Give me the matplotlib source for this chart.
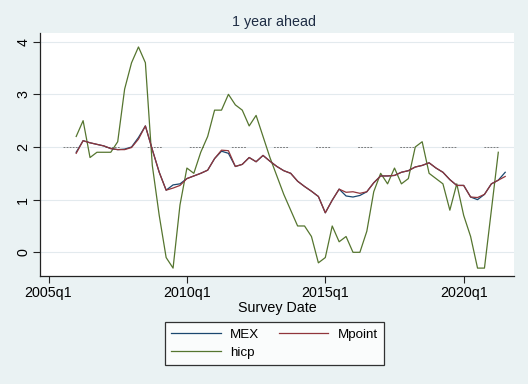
import numpy as np
import matplotlib
matplotlib.use("Agg")
import matplotlib.pyplot as plt
from matplotlib.ticker import FixedLocator, FuncFormatter

plt.rcParams["font.family"] = ["Liberation Sans", "DejaVu Sans"]
plt.rcParams["lines.scale_dashes"] = False

# ---- Data (quarterly, Stata %tq index: 2006q1 = 184) ----
START_Q = 184

mex = [1.90, 2.12, 2.08, 2.05, 2.02, 1.97, 1.95, 1.96, 2.00, 2.18,
       2.40, 1.95, 1.52, 1.18, 1.28, 1.30, 1.40, 1.45, 1.50, 1.56,
       1.78, 1.92, 1.88, 1.63, 1.67, 1.80, 1.72, 1.84, 1.73, 1.63,
       1.55, 1.50, 1.35, 1.25, 1.16, 1.06, 0.75, 0.99, 1.20, 1.07,
       1.05, 1.08, 1.15, 1.32, 1.45, 1.45, 1.46, 1.52, 1.55, 1.62,
       1.65, 1.70, 1.60, 1.52, 1.38, 1.27, 1.27, 1.05, 1.00, 1.10,
       1.30, 1.37, 1.52]

mpoint = [1.88, 2.12, 2.08, 2.05, 2.02, 1.97, 1.95, 1.95, 1.99, 2.15,
          2.40, 1.95, 1.52, 1.18, 1.22, 1.27, 1.40, 1.45, 1.50, 1.56,
          1.78, 1.94, 1.93, 1.63, 1.67, 1.80, 1.72, 1.84, 1.73, 1.63,
          1.55, 1.50, 1.35, 1.25, 1.16, 1.06, 0.75, 0.99, 1.20, 1.14,
          1.15, 1.12, 1.15, 1.32, 1.45, 1.45, 1.46, 1.52, 1.55, 1.62,
          1.65, 1.70, 1.60, 1.52, 1.38, 1.27, 1.27, 1.05, 1.04, 1.10,
          1.30, 1.37, 1.44]

hicp = [2.2, 2.5, 1.8, 1.9, 1.9, 1.9, 2.1, 3.1, 3.6, 3.9,
        3.6, 1.65, 0.7, -0.1, -0.3, 0.9, 1.6, 1.5, 1.9, 2.2,
        2.7, 2.7, 3.0, 2.8, 2.7, 2.4, 2.6, 2.2, 1.8, 1.45,
        1.1, 0.8, 0.5, 0.5, 0.3, -0.2, -0.1, 0.5, 0.2, 0.3,
        0.0, 0.0, 0.4, 1.15, 1.5, 1.3, 1.6, 1.3, 1.4, 2.0,
        2.1, 1.5, 1.4, 1.3, 0.8, 1.3, 0.7, 0.3, -0.3, -0.3,
        0.8, 1.9]

target = 2.0
x_ticks = [180, 200, 220, 240]   # 2005q1, 2010q1, 2015q1, 2020q1
y_ticks = [0, 1, 2, 3, 4]

BG = "#eaf2f3"
C_MEX, C_MP, C_HICP = "#1a476f", "#90353b", "#55752f"


def tq_label(v, pos=None):
    v = int(round(v))
    return f"{1960 + v // 4}q{v % 4 + 1}"


def main():
    q = START_Q + np.arange(len(mex))
    hicp_full = np.full(len(mex), np.nan)
    hicp_full[:len(hicp)] = hicp

    fig = plt.figure(figsize=(5.28, 3.84), dpi=100, facecolor=BG)
    ax = fig.add_axes([40 / 528, 1 - 276 / 384, 474 / 528, 243 / 384])
    ax.set_facecolor("white")

    for y in y_ticks:
        ax.axhline(y, color="#e3eaee", lw=0.8, zorder=0)

    # target line (fine dashes grouped in blocks)
    dash = [1.3, 0.9] * 5
    dash[-1] = 20.2
    ax.axhline(target, color="#6b6b6b", lw=0.6, zorder=1,
               linestyle=(13.7, dash))

    l_mex, = ax.plot(q, mex, color=C_MEX, lw=0.9, label="MEX", zorder=3)
    l_mp, = ax.plot(q, mpoint, color=C_MP, lw=0.9, label="Mpoint", zorder=3)
    l_hi, = ax.plot(q, hicp_full, color=C_HICP, lw=0.9, label="hicp", zorder=2)

    ax.set_xlim(178.77, 247.27)
    ax.set_ylim(-0.45, 4.165)

    ax.xaxis.set_major_locator(FixedLocator(x_ticks))
    ax.xaxis.set_major_formatter(FuncFormatter(tq_label))
    ax.set_yticks(y_ticks)
    ax.tick_params(axis="both", length=5, width=0.8, color="#222222",
                   labelsize=10.3, labelcolor="black", pad=2)
    for lab in ax.get_yticklabels():
        lab.set_rotation(90)
        lab.set_va("center")

    for s in ["top", "right"]:
        ax.spines[s].set_visible(False)
    for s in ["left", "bottom"]:
        ax.spines[s].set_color("#222222")
        ax.spines[s].set_linewidth(0.9)

    ax.set_xlabel("Survey Date", fontsize=10.3, labelpad=1)
    fig.text(0.519, 1 - 21.7 / 384, "1 year ahead", ha="center", va="center",
             fontsize=10.3, color="#1e2d44")

    # row-wise order like Stata: MEX  Mpoint / hicp
    leg = fig.legend([l_mex, l_hi, l_mp], ["MEX", "hicp", "Mpoint"],
                     loc="center", bbox_to_anchor=(0.52, 1 - 343.8 / 384),
                     ncol=2, fontsize=9.6, frameon=True, fancybox=False,
                     handlelength=3.7, handletextpad=0.7, columnspacing=1.5,
                     labelspacing=0.45, borderpad=0.45)
    leg.get_frame().set_edgecolor("black")
    leg.get_frame().set_linewidth(0.9)
    leg.get_frame().set_facecolor("white")

    fig.savefig("out.png", dpi=100, facecolor=BG)
    plt.close(fig)


if __name__ == "__main__":
    main()
